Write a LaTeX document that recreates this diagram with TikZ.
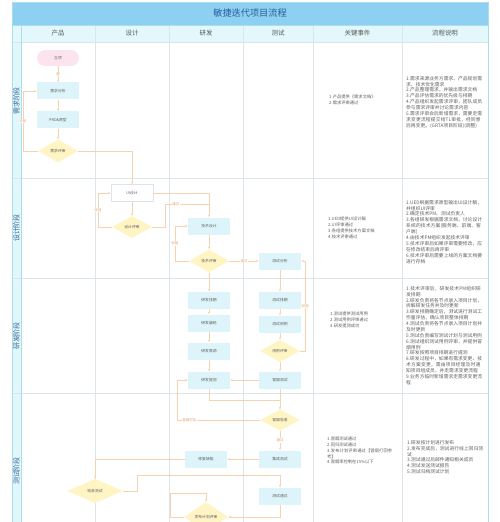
\documentclass[tikz,border=0pt]{standalone}
\usepackage{fontspec}
\setmainfont{Noto Sans CJK SC}
\XeTeXlinebreaklocale "zh"
\XeTeXlinebreakskip = 0pt plus 1pt
\usepackage{xcolor}
\usetikzlibrary{shapes.geometric}
\usetikzlibrary{arrows.meta}
\definecolor{titleBgColor}{HTML}{8DD0F2}
\definecolor{titleTextColor}{HTML}{2A5C9A}
\definecolor{headBgColor}{HTML}{E2F8FB}
\definecolor{headTextColor}{HTML}{5A5A5A}
\definecolor{stageBgColor}{HTML}{E1F7FB}
\definecolor{stageTextColor}{HTML}{3D6A99}
\definecolor{frameColor}{HTML}{A9DDF0}
\definecolor{gridColor}{HTML}{DDE5EA}
\definecolor{boxFillColor}{HTML}{DDF5FA}
\definecolor{startFillColor}{HTML}{FCE4EF}
\definecolor{reviewFillColor}{HTML}{FFF5C4}
\definecolor{nodeTextColor}{HTML}{5E5E5E}
\definecolor{linkColor}{HTML}{F6D3B0}
\definecolor{linkTextColor}{HTML}{E5A06A}
\definecolor{noteTextColor}{HTML}{606060}
\def\titleFont{\fontsize{9.2}{11}\selectfont}
\def\headFont{\fontsize{6.5}{8}\selectfont}
\def\stageFont{\fontsize{7}{8}\selectfont}
\def\nodeFont{\fontsize{3.8}{4.5}\selectfont}
\def\linkFont{\fontsize{3.5}{4}\selectfont}
\def\keyFont{\fontsize{4.3}{5.8}\selectfont}
\def\noteFont{\fontsize{4.8}{5.9}\selectfont}
\def\keyReq{1.产品提供《需求文档》\\2.需求评审通过}
\def\keyDesign{1.UED提供UI设计稿\\2.UI评审通过\\3.各组提供技术方案文档\\4.技术评审通过}
\def\keyDev{1.测试提供测试用例\\2.测试用例评审通过\\3.研发提测成功}
\def\keyTest{1.冒烟测试通过\\2.回归测试通过\\3.发布计划评审通过【冒烟打回参考】\\4.冒烟率控制在15\%以下}
\def\noteReq{1.需求来源业务方需求、产品规划需求、技术优化需求\\2.产品整理需求，并输出需求文档\\3.产品评估需求的优先级与排期\\4.产品组织发起需求评审，团队成员参与需求评审并讨论需求内容\\5.需求评审会后新增需求，需要走需求变更流程提交给TL审批，经同意后再变更。(GRTA项目阶段)(调整)}
\def\noteDesign{1.UED根据需求原型输出UI设计稿，并组织UI评审\\2.确定技术PM、测试负责人\\3.各组研发根据需求文档，讨论设计系统的技术方案(服务端、前端、客户端)\\4.由技术PM组织发起技术评审\\5.技术评审后如果评审需要修改，应在修改结束后再评审\\6.技术评审后需要上线的方案文档要进行存档}
\def\noteDev{1.技术评审后，研发技术PM组织研发排期\\2.研发负责将各节点录入项目计划，拆解研发任务并及时更新\\3.研发排期确定后，测试进行测试工作量评估，确认项目整体排期\\4.测试负责将各节点录入项目计划并及时更新\\5.测试负责编写测试计划与测试用例\\6.测试组织测试用例评审，并提供冒烟用例\\7.研发按照项目排期进行提测\\8.研发过程中，如果有需求变更、技术方案变更，需由项目经理及时通知项目组成员，并走需求变更流程\\9.业务方临时新增需求走需求变更流程}
\def\noteTest{1.研发按计划进行发布\\2.发布完成后，测试进行线上回归测试\\3.测试通过后邮件通知相关成员\\4.测试发送测试报告\\5.测试归档测试计划}
\tikzset{
procBox/.style={rectangle, fill=boxFillColor, minimum width=42bp, minimum height=17bp, inner sep=0pt, font=\nodeFont, text=nodeTextColor},
startBox/.style={procBox, fill=startFillColor, rounded corners=8bp, minimum height=16bp},
uiBox/.style={procBox, fill=white, draw=gridColor, line width=.5bp},
reviewBox/.style={diamond, fill=reviewFillColor, minimum width=40bp, minimum height=23bp, inner sep=0pt, font=\nodeFont, text=nodeTextColor},
flowLine/.style={draw=linkColor, line width=.5bp, -{Stealth[length=2.6bp,width=2.2bp]}},
flowPlain/.style={draw=linkColor, line width=.5bp},
flowLabel/.style={font=\linkFont, text=linkTextColor, fill=white, inner sep=.6bp},
headText/.style={font=\headFont, text=headTextColor},
stageText/.style={rotate=90, font=\stageFont, text=stageTextColor},
keyText/.style={anchor=north west, text width=66bp, align=left, inner sep=0pt, font=\keyFont, text=noteTextColor},
noteText/.style={anchor=north west, text width=76bp, align=left, inner sep=0pt, font=\noteFont, text=noteTextColor}
}

\begin{document}
\begin{tikzpicture}[x=1bp,y=-1bp]
\useasboundingbox (0,0) rectangle (500,522);
\clip (0,0) rectangle (500,522);

% table layer
\begin{scope}
\fill[titleBgColor] (12,2) rectangle (488,25);
\fill[headBgColor] (12,25) rectangle (488,42);
\fill[stageBgColor] (12,42) rectangle (21,530);
\foreach \x in {95,169,243,313,402} {
\draw[gridColor, line width=.5bp] (\x,25) -- (\x,530);
}
\foreach \y in {42,178,278,393} {
\draw[gridColor, line width=.5bp] (12,\y) -- (488,\y);
}
\draw[frameColor, line width=.5bp] (21,25) -- (21,530);
\draw[frameColor, line width=.5bp] (12,25) -- (488,25);
\draw[frameColor, line width=.8bp] (12,2) rectangle (488,530);
\end{scope}

% header layer
\begin{scope}
\node[font=\titleFont, text=titleTextColor] (title) at (250,13.5) {敏捷迭代项目流程};
\node[headText] (headProduct) at (58,33.5) {产品};
\node[headText] (headDesign) at (132,33.5) {设计};
\node[headText] (headDev) at (206,33.5) {研发};
\node[headText] (headTest) at (278,33.5) {测试};
\node[headText] (headKeys) at (357.5,33.5) {关键事件};
\node[headText] (headNotes) at (445,33.5) {流程说明};
\node[stageText] (stageReq) at (16.5,101) {需求阶段};
\node[stageText] (stageDesign) at (16.5,228) {设计阶段};
\node[stageText] (stageDev) at (16.5,336) {研发阶段};
\node[stageText] (stageTest) at (16.5,471) {测试阶段};
\end{scope}

% node layer
\begin{scope}
\node[startBox] (kickoff) at (58,58) {立项};
\node[procBox] (reqAnalysis) at (58,91) {需求分析};
\node[procBox] (prdDraft) at (58,120) {PRD\&原型};
\node[reviewBox] (reqReview) at (58,151) {需求评审};
\node[uiBox] (uiDesign) at (132,193) {UI设计};
\node[reviewBox, minimum height=22bp] (designReview) at (132,227) {设计评审};
\node[procBox] (techDesign) at (209,226) {技术设计};
\node[reviewBox] (techReview) at (209,261) {技术评审};
\node[procBox] (testAnalysis) at (280,261) {测试分析};
\node[procBox] (devPlan) at (209,300) {研发排期};
\node[procBox] (devCode) at (209,323) {研发编码};
\node[procBox] (devJoint) at (209,351) {研发联调};
\node[procBox] (devSubmit) at (209,380) {研发提测};
\node[procBox] (testPlan) at (280,300) {测试排期};
\node[procBox] (testCase) at (280,324) {测试用例};
\node[reviewBox, minimum height=22bp] (caseReview) at (280,351) {用例评审};
\node[procBox] (smokeTest) at (280,380) {冒烟测试};
\node[reviewBox, minimum height=21bp] (smokeCheck) at (280,420) {冒烟验收};
\node[procBox] (integTest) at (280,459) {集成测试};
\node[procBox] (bugFix) at (206,459) {修复缺陷};
\node[procBox] (testPass) at (280,496) {测试通过};
\node[reviewBox, minimum width=56bp, minimum height=24bp] (acceptTest) at (95,491) {验收测试};
\node[reviewBox, minimum width=44bp, minimum height=30bp] (releaseReview) at (206,517) {发布计划评审};
\coordinate (designJoin) at (209,204);
\coordinate (passJoin) at (280,475);
\coordinate (releaseLoop) at (206,493);
\end{scope}

% link layer
\begin{scope}
\draw[flowLine] (kickoff) -- node[flowLabel] {是} (reqAnalysis);
\draw[flowLine] (reqAnalysis) -- (prdDraft);
\draw[flowLine] (prdDraft) -- (reqReview);
\draw[flowLine] (reqReview.west) -- ++(-15,0) |- node[flowLabel, pos=.25] {驳回} (reqAnalysis.west);
\draw[flowLine] (reqReview.east) -| (uiDesign.north);
\draw[flowLine] (uiDesign) -- (designReview);
\draw[flowLine] (designReview.west) -- ++(-14,0) |- node[flowLabel, pos=.25] {驳回} (uiDesign.west);
\draw[flowLine] (uiDesign.east) -| (techDesign.north);
\draw[flowPlain] (designReview.east) -- ++(13,0) |- node[flowLabel, pos=.62] {通过} (designJoin);
\draw[flowLine] (techDesign) -- (techReview);
\draw[flowLine] (techReview.west) -- ++(-14,0) |- node[flowLabel, pos=.25] {驳回} (techDesign.west);
\draw[flowLine] (techReview) -- node[flowLabel] {通过} (testAnalysis);
\draw[flowLine] (techReview) -- (devPlan);
\draw[flowLine] (testAnalysis) -- (testPlan);
\draw[flowLine] (caseReview.east) -- ++(5,0) |- node[flowLabel, pos=.25] {驳回} (testAnalysis.east);
\draw[flowLine] (devPlan) -- (devCode);
\draw[flowLine] (devCode) -- (devJoint);
\draw[flowLine] (devJoint) -- (devSubmit);
\draw[flowLine] (testPlan) -- (testCase);
\draw[flowLine] (testCase) -- (caseReview);
\draw[flowLine] (caseReview) -- (smokeTest);
\draw[flowLine] (smokeTest) -- (devSubmit);
\draw[flowLine] (smokeTest) -- (smokeCheck);
\draw[flowLine] (devSubmit.south) -- ++(0,12) -| (smokeCheck.north);
\draw[flowLine] (smokeCheck.west) -- node[flowLabel, pos=.85] {冒烟打回} ++(-83,0) |- (devSubmit.west);
\draw[flowLine] (smokeCheck) -- node[flowLabel] {通过} (integTest);
\draw[flowLine] (integTest) -- (bugFix);
\draw[flowLine] (bugFix.west) -| (acceptTest.north);
\draw[flowLine] (acceptTest.east) -- ++(14,0) |- (passJoin) -- (testPass.north);
\draw[flowLine] (testPass.south) |- (releaseReview.east);
\draw[flowLine] (releaseReview.west) -- ++(-14,0) |- (releaseLoop) -- (releaseReview.north);
\end{scope}

% text layer
\begin{scope}
\node[keyText] (reqKeys) at (329,95) {\keyReq};
\node[keyText] (designKeys) at (328,217) {\keyDesign};
\node[keyText] (devKeys) at (330,312) {\keyDev};
\node[keyText] (testKeys) at (327,437) {\keyTest};
\node[noteText] (reqNotes) at (406,76) {\noteReq};
\node[noteText] (designNotes) at (406,200) {\noteDesign};
\node[noteText] (devNotes) at (406,286) {\noteDev};
\node[noteText] (testNotes) at (407,440) {\noteTest};
\end{scope}

\end{tikzpicture}
\end{document}
